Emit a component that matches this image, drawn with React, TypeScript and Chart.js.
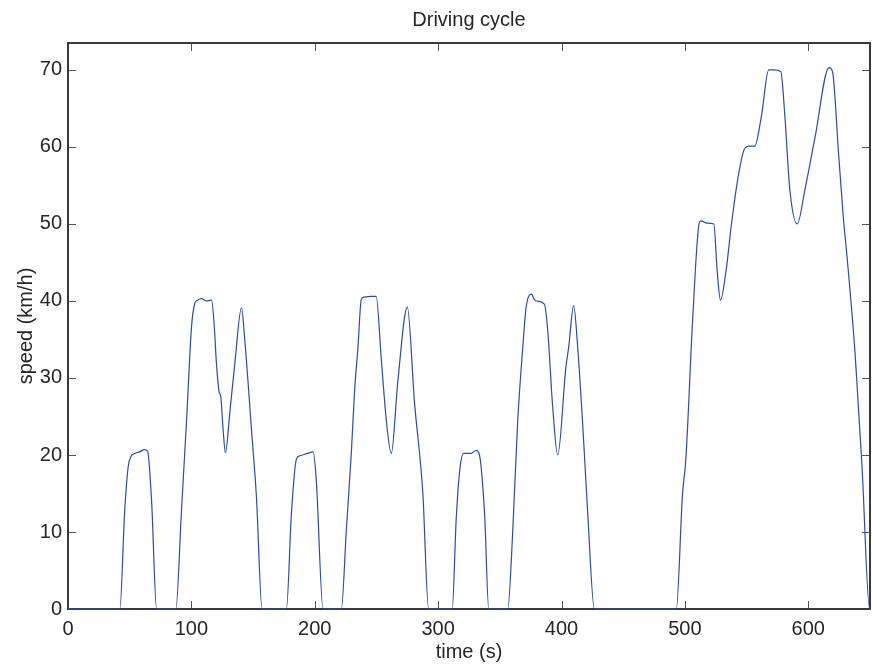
import React, { useEffect, useRef } from 'react';
import { Chart, registerables } from 'chart.js';

Chart.register(...registerables);

// Time stamps (s) and speeds (km/h)
const timeS = [
  0, 42, 46, 48.8, 51, 54, 58, 62, 64.5, 67.7, 71.8,
  87.4, 92, 96.1, 100.1, 102.8, 105, 108.2, 112, 116.3, 118.4, 120.3, 122.5, 123.8, 125.7, 127.6, 131.1, 135.2, 140.6, 143.3, 148.7, 152.7, 157.3,
  177, 181.1, 185, 188, 192, 196, 198.6, 201.2, 206.7,
  221.5, 225.6, 229.6, 232.3, 235, 237.7, 240, 245, 249.8, 253.8, 258, 262, 267.4, 275, 280.9, 287.6, 292.2,
  311.4, 314.6, 317.5, 320.6, 326.7, 330.8, 333, 337.6, 341,
  356.4, 360.5, 364.5, 368.6, 371.3, 375.9, 377.5, 379.4, 386.1, 388.8, 392.8, 396.9, 403.6, 405.8, 409.8, 413.1, 417.1, 421.2, 426.6,
  493, 498, 500.8, 506.3, 511.7, 513, 518, 523.4, 526.1, 528.8, 533.4, 537.5, 542.9, 548.4, 552, 556.5, 562, 567.9, 572, 577.7,
  581, 585, 591, 597.3, 605.4, 616.8, 619.6, 624.5, 628.5, 631.3, 638, 643.5, 649.7, 650,
];
const speedKmh = [
  0, 0, 12.9, 18.5, 19.8, 20.2, 20.4, 20.7, 20.5, 14.2, 0,
  0, 12.9, 24.5, 36.6, 39.7, 40.1, 40.3, 40.0, 40.1, 37.1, 31.9, 28.2, 27.6, 23.3, 20.3, 25.4, 31.9, 39.1, 34.9, 23.3, 14.6, 0,
  0, 12.5, 19.4, 19.9, 20.1, 20.3, 20.4, 16.8, 0,
  0, 10.3, 20.2, 28.4, 34.0, 40.2, 40.5, 40.6, 40.6, 32.7, 24.5, 20.2, 29.7, 39.2, 26.7, 15.0, 0,
  0, 11.6, 18.0, 20.2, 20.2, 20.6, 20.3, 12.5, 0,
  0, 10.3, 24.5, 34.0, 39.2, 40.9, 40.3, 40.0, 39.6, 36.2, 26.3, 20.0, 31.5, 34.0, 39.4, 34.0, 24.1, 12.5, 0,
  0, 14.8, 19.6, 37.7, 50.2, 50.4, 50.1, 50.0, 44.0, 40.1, 44.0, 49.7, 55.9, 59.8, 60.1, 60.1, 64.0, 70.0, 70.0, 69.8,
  64.0, 54.5, 50.0, 54.5, 61.2, 70.3, 69.8, 59.2, 50.6, 45.9, 33.0, 18.6, 0, 0,
];

const xTickValues = [0, 100, 200, 300, 400, 500, 600];
const yTickValues = [0, 10, 20, 30, 40, 50, 60, 70];
const xTickLabels = ['0', '100', '200', '300', '400', '500', '600'];
const yTickLabels = ['0', '10', '20', '30', '40', '50', '60', '70'];
const X_MIN = 0;
const X_MAX = 650;
const Y_MIN = 0;
const Y_MAX = 73.5;

const FONT_FAMILY = '"Liberation Sans", Arial, Helvetica, sans-serif';
const TEXT_COLOR = '#262626';

const boxPlugin = {
  id: 'matlabBox',
  beforeDatasetsDraw(chart: any) {
    const { ctx, chartArea, scales } = chart;
    const { left, right, top, bottom } = chartArea;
    ctx.save();
    ctx.strokeStyle = '#555555';
    ctx.lineWidth = 1;
    const tl = 8;
    xTickValues.forEach((v) => {
      const px = Math.round(scales.x.getPixelForValue(v)) + 0.5;
      ctx.beginPath();
      ctx.moveTo(px, bottom);
      ctx.lineTo(px, bottom - tl);
      ctx.moveTo(px, top);
      ctx.lineTo(px, top + tl);
      ctx.stroke();
    });
    yTickValues.forEach((v) => {
      const py = Math.round(scales.y.getPixelForValue(v)) + 0.5;
      ctx.beginPath();
      ctx.moveTo(left, py);
      ctx.lineTo(left + tl, py);
      ctx.moveTo(right, py);
      ctx.lineTo(right - tl, py);
      ctx.stroke();
    });
    ctx.strokeStyle = '#3a3a3a';
    ctx.lineWidth = 2;
    ctx.strokeRect(left, top, right - left, bottom - top);
    ctx.restore();
  },
};

export default function App() {
  const canvasRef = useRef<HTMLCanvasElement | null>(null);

  useEffect(() => {
    document.body.style.margin = '0';
    const canvas = canvasRef.current;
    if (!canvas) return;
    const points = timeS.map((t, i) => ({ x: t, y: speedKmh[i] }));
    const font = { family: FONT_FAMILY, size: 20, weight: 'normal' as const };
    const chart = new Chart(canvas, {
      type: 'line',
      data: {
        datasets: [
          {
            data: points,
            borderColor: '#2a4bb3',
            borderWidth: 1.2,
            pointRadius: 0,
            fill: false,
            cubicInterpolationMode: 'monotone',
            clip: 3,
          } as any,
        ],
      },
      options: {
        responsive: false,
        animation: false,
        events: [],
        layout: { padding: { left: 0, right: 2, top: 0, bottom: 0 } },
        plugins: {
          legend: { display: false },
          tooltip: { enabled: false },
          title: {
            display: true,
            text: 'Driving cycle',
            fullSize: false,
            color: TEXT_COLOR,
            font,
            padding: { top: 8, bottom: 11 },
          },
        },
        scales: {
          x: {
            type: 'linear',
            min: X_MIN,
            max: X_MAX,
            afterBuildTicks: (s: any) => {
              s.ticks = xTickValues.map((v) => ({ value: v }));
            },
            afterFit: (s: any) => {
              s.height = 57;
            },
            grid: { display: false, drawTicks: false },
            border: { display: false },
            ticks: {
              padding: 8,
              color: TEXT_COLOR,
              font,
              maxRotation: 0,
              autoSkip: false,
              callback: (v: any) => {
                const i = xTickValues.indexOf(Number(v));
                return i >= 0 ? xTickLabels[i] : '';
              },
            },
            title: {
              display: true,
              text: 'time (s)',
              color: TEXT_COLOR,
              font,
              padding: { top: 0, bottom: 2 },
            },
          },
          y: {
            type: 'linear',
            min: Y_MIN,
            max: Y_MAX,
            afterBuildTicks: (s: any) => {
              s.ticks = yTickValues.map((v) => ({ value: v }));
            },
            afterFit: (s: any) => {
              s.width = 68;
            },
            grid: { display: false, drawTicks: false },
            border: { display: false },
            ticks: {
              padding: 6,
              color: TEXT_COLOR,
              font,
              autoSkip: false,
              callback: (v: any) => {
                const i = yTickValues.indexOf(Number(v));
                return i >= 0 ? yTickLabels[i] : '';
              },
            },
            title: {
              display: true,
              text: 'speed (km/h)',
              color: TEXT_COLOR,
              font,
              padding: { top: 14, bottom: 0 },
            },
          },
        },
      },
      plugins: [boxPlugin],
    });
    return () => chart.destroy();
  }, []);

  return (
    <div style={{ position: 'absolute', left: 0, top: 0, width: 872, height: 666, background: '#fff' }}>
      <canvas ref={canvasRef} width={872} height={666} style={{ display: 'block' }} />
    </div>
  );
}
